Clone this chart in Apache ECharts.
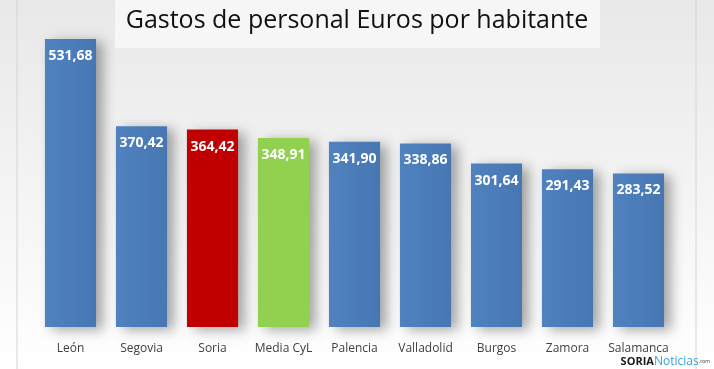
<!DOCTYPE html>
<html><head><meta charset="utf-8">
<script src="https://cdn.jsdelivr.net/npm/echarts@6/dist/echarts.min.js"></script>
<style>html,body{margin:0;padding:0;background:#fff}#c{width:714px;height:369px}</style>
</head><body><div id="c"></div>
<script>
const categories = ["León","Segovia","Soria","Media CyL","Palencia","Valladolid","Burgos","Zamora","Salamanca"];
const values = [531.68,370.42,364.42,348.91,341.90,338.86,301.64,291.43,283.52];
const barColors = ["#4a7ebb","#4a7ebb","#c00000","#92d050","#4a7ebb","#4a7ebb","#4a7ebb","#4a7ebb","#4a7ebb"];
const titleText = "Gastos de personal Euros por habitante";

const chart = echarts.init(document.getElementById('c'), null, {renderer:'canvas'});
const blueGrad = new echarts.graphic.LinearGradient(0,0,1,0,[{offset:0,color:'#4f82bf'},{offset:1,color:'#4777b3'}]);
chart.setOption({
  animation:false,
  backgroundColor: new echarts.graphic.LinearGradient(0,0,0,1,[{offset:0,color:'#e8e8e8'},{offset:1,color:'#ffffff'}]),
  graphic:[
    {type:'rect',shape:{x:17,y:-5,width:679,height:380,r:6},style:{fill:'none',stroke:'#d4d4d4',lineWidth:1},z:-1},
    {type:'rect',shape:{x:115,y:0,width:485,height:48},style:{fill:'rgba(255,255,255,0.6)'},z:-1},
    {type:'text',right:4,bottom:1,style:{text:'{a|SORIA}{b|Noticias}{c|.com}',rich:{a:{fontFamily:'Open Sans',fontWeight:'bold',fontSize:11,fill:'#1a1a1a'},b:{fontFamily:'Open Sans',fontSize:12,fill:'#3aa0d8'},c:{fontFamily:'Open Sans',fontSize:5,fill:'#333'}}},z:10}
  ],
  title:{text:titleText,left:'center',top:3,textStyle:{fontFamily:'Open Sans',fontWeight:'normal',fontSize:25,color:'#111'}},
  grid:{left:35,right:40,top:39,bottom:42,containLabel:false},
  xAxis:{type:'category',data:categories,axisLine:{show:false},axisTick:{show:false},
    axisLabel:{interval:0,color:'#404040',fontFamily:'Open Sans',fontSize:12,margin:16}},
  yAxis:{type:'value',min:0,max:531.68,show:false,splitLine:{show:false}},
  series:[{type:'bar',barCategoryGap:'28%',
    data:values.map((v,i)=>({value:v,itemStyle:{color:barColors[i]==='#4a7ebb'?blueGrad:barColors[i]}})),
    itemStyle:{shadowColor:'rgba(0,0,0,0.35)',shadowBlur:12,shadowOffsetX:7,shadowOffsetY:3},
    label:{show:true,position:'insideTop',distance:10,color:'#fff',fontFamily:'Open Sans',fontWeight:'bold',fontSize:14,
      formatter:p=>p.value.toFixed(2).replace('.',',')}
  }]
});
</script></body></html>
